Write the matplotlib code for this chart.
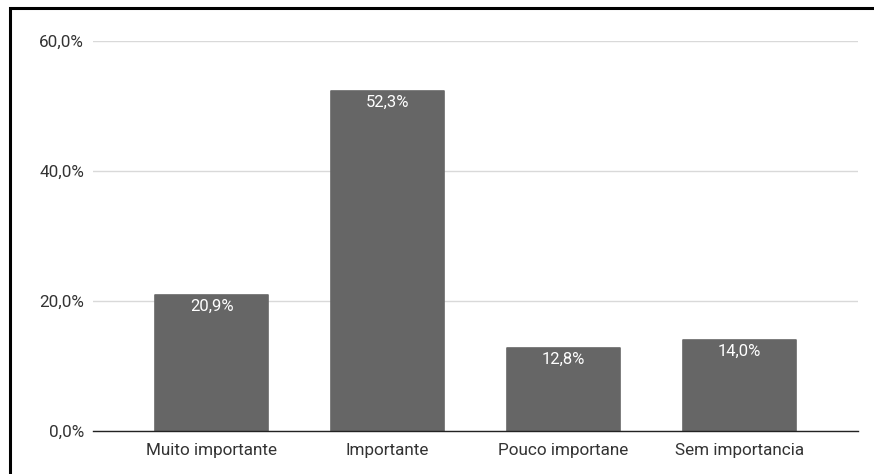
#!/usr/bin/env python3
"""Bar chart: importance ratings (percentage of answers)."""
import matplotlib
matplotlib.use("Agg")
import matplotlib.pyplot as plt
from matplotlib.patches import Rectangle
from matplotlib.ticker import FuncFormatter

categories = ["Muito importante", "Importante", "Pouco importane", "Sem importancia"]
values = [20.9, 52.3, 12.8, 14.0]
y_ticks = [0, 20, 40, 60]

BAR_COLOR = "#666666"
GRID_COLOR = "#d9d9d9"
TEXT_COLOR = "#333333"

plt.rcParams["font.family"] = ["Roboto", "DejaVu Sans"]

fig = plt.figure(figsize=(8.74, 4.74), dpi=100)
ax = fig.add_axes([93 / 874, 1 - 431 / 474, (858 - 93) / 874, (431 - 41) / 474])

x = list(range(len(categories)))
bars = ax.bar(x, values, width=0.643, color=BAR_COLOR, edgecolor=BAR_COLOR,
              linewidth=1.2, joinstyle="round", zorder=3)

for b, v in zip(bars, values):
    ax.annotate(f"{v:.1f}%".replace(".", ","), (b.get_x() + b.get_width() / 2, v),
                xytext=(0, -8), textcoords="offset points",
                ha="center", va="center", color="white", fontsize=12, zorder=4)

ax.set_xlim(-0.674, 3.674)
ax.set_ylim(0, 60)
ax.set_yticks(y_ticks)
ax.yaxis.set_major_formatter(FuncFormatter(lambda v, _: f"{v:.1f}%".replace(".", ",")))
ax.set_xticks(x)
ax.set_xticklabels(categories)
ax.tick_params(axis="both", length=0, labelsize=12.3, labelcolor=TEXT_COLOR)
ax.tick_params(axis="y", pad=6.5)
ax.tick_params(axis="x", pad=8.5)

ax.grid(axis="y", color=GRID_COLOR, linewidth=1, zorder=0)
for side in ("top", "right", "left"):
    ax.spines[side].set_visible(False)
ax.spines["bottom"].set_color("#222222")
ax.spines["bottom"].set_linewidth(1)
ax.spines["bottom"].set_zorder(5)

# black frame, cut off at right and bottom like the screenshot
fig.patches.append(Rectangle((10 / 874, -0.1), 1.2, 1 - 8 / 474 + 0.1,
                             transform=fig.transFigure, fill=False,
                             edgecolor="black", linewidth=2.2))

fig.savefig("out.png", dpi=100)
